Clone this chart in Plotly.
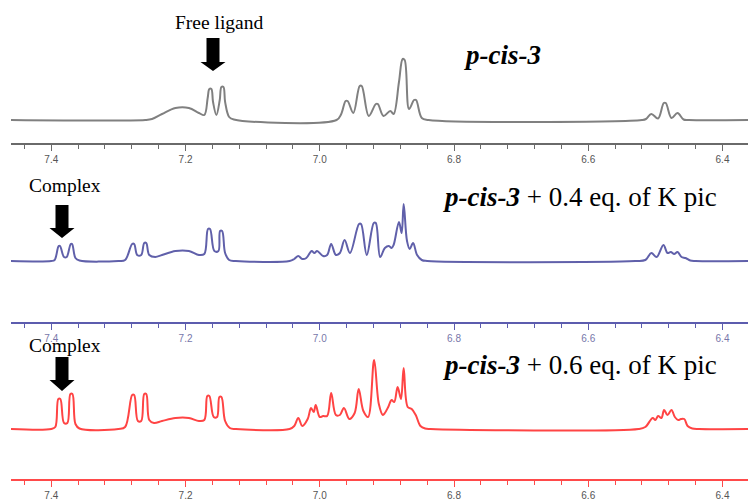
import plotly.graph_objects as go

W, H = 748, 504

# ---------------- data (ppm, intensity above baseline, a.u.) ----------------
ppm_free = [7.46, 7.26, 7.25, 7.235, 7.215, 7.195, 7.18, 7.172, 7.167, 7.1645, 7.1615, 7.159, 7.154, 7.149, 7.1465,
            7.1435, 7.141, 7.135, 7.128, 6.975, 6.968, 6.9615, 6.9585, 6.95, 6.9405, 6.9375, 6.927, 6.9165, 6.9135,
            6.905, 6.895, 6.89, 6.882, 6.8765, 6.8735, 6.867, 6.8595, 6.8565, 6.848, 6.838,
            6.52, 6.514, 6.506, 6.496, 6.4875, 6.4845, 6.476, 6.467, 6.458, 6.45, 6.36]
int_free = [0, 0, 1, 6, 12, 12, 7, 5, 22, 31, 31, 18, 5, 20, 33,
            33, 18, 3, 0.5, 0, 6, 19, 19, 7, 34, 34, 4, 16, 16,
            4, 9, 6, 38, 61, 60, 11, 20, 20, 2, 0,
            0, 1, 6, 1.5, 17, 17, 2, 7, 0.5, 0, 0]

ppm_04 = [7.46, 7.40, 7.395, 7.389, 7.387, 7.381, 7.377, 7.371, 7.369, 7.364, 7.358, 7.30, 7.29, 7.2795, 7.2765,
          7.272, 7.266, 7.2615, 7.2585, 7.254, 7.245, 7.235, 7.215, 7.195, 7.18, 7.172, 7.1665, 7.1635, 7.157,
          7.151, 7.1485, 7.1455, 7.141, 7.135, 7.125,
          7.045, 7.038, 7.032, 7.026, 7.02, 7.012, 7.008, 7.004, 6.995, 6.989, 6.983, 6.976, 6.97, 6.963,
          6.955, 6.9415, 6.9385, 6.93, 6.9195, 6.9165, 6.91, 6.903, 6.897, 6.893, 6.89, 6.882, 6.878, 6.875,
          6.87, 6.866, 6.861, 6.855, 6.848, 6.84,
          6.53, 6.515, 6.506, 6.498, 6.488, 6.482, 6.477, 6.472, 6.467, 6.461, 6.455, 6.448, 6.44, 6.36]
int_04 = [0, 0, 1, 15, 15, 4, 4, 17, 17, 3, 0.5, 0, 1, 17, 17,
          6, 6, 18, 18, 6, 4, 6, 10, 10, 6, 7, 32, 32, 10,
          10, 30, 30, 8, 1, 0,
          0, 2, 5, 2, 3, 10, 8, 10, 5, 6, 17, 6, 8, 21,
          8, 37, 37, 6, 38, 38, 4, 13, 15, 13, 16, 39, 28, 57,
          20, 12, 18, 6, 1, 0,
          0, 1, 8, 4, 16, 8, 9, 7, 9, 4, 3, 0.5, 0, 0]

ppm_06 = [7.46, 7.40, 7.394, 7.3895, 7.3865, 7.381, 7.376, 7.3715, 7.3685, 7.364, 7.358, 7.30, 7.29, 7.2795,
          7.2765, 7.271, 7.266, 7.2615, 7.2585, 7.254, 7.247, 7.235, 7.215, 7.195, 7.18, 7.172, 7.1675, 7.1645,
          7.158, 7.153, 7.1495, 7.1465, 7.141, 7.134, 7.125,
          7.045, 7.038, 7.032, 7.026, 7.018, 7.013, 7.009, 7.006, 7.0, 6.995, 6.989, 6.983, 6.976, 6.97,
          6.964, 6.956, 6.948, 6.942, 6.935, 6.928, 6.919, 6.912, 6.906, 6.903, 6.898, 6.893, 6.889, 6.884,
          6.879, 6.875, 6.869, 6.863, 6.857, 6.85, 6.843, 6.835,
          6.525, 6.515, 6.504, 6.5, 6.496, 6.491, 6.487, 6.482, 6.476, 6.471, 6.466, 6.462, 6.457, 6.452,
          6.445, 6.435, 6.36]
int_06 = [0, 0, 2, 30, 30, 6, 6, 35, 35, 5, 0.5, 0, 2, 34,
          34, 8, 8, 35, 35, 9, 6, 8, 11, 11, 8, 9, 33, 33,
          12, 12, 32, 32, 8, 1, 0,
          0, 3, 11, 3, 10, 21, 17, 24, 12, 13, 13, 36, 14, 14,
          21, 10, 16, 40, 18, 12, 69, 25, 14, 16, 22, 29, 27, 42,
          30, 61, 22, 20, 14, 3, 0.5, 0,
          0, 2, 11, 9, 13, 11, 19, 14, 19, 12, 9, 10, 10, 3,
          0.5, 0, 0]

tick_vals = [7.4, 7.2, 7.0, 6.8, 6.6, 6.4]
tick_text = ["7.4", "7.2", "7.0", "6.8", "6.6", "6.4"]
x_range = [7.46, 6.362]

panels = [
    dict(x=ppm_free, y=int_free, line="#808080", axis="#6a6a6a", lab="#555555",
         dom=(0, 143), base=120),
    dict(x=ppm_04, y=int_04, line="#6060aa", axis="#5c5cae", lab="#7777aa",
         dom=(150, 322), base=261),
    dict(x=ppm_06, y=int_06, line="#ff4444", axis="#ff4a4a", lab="#555555",
         dom=(330, 479), base=429),
]


def py(px):
    return 1 - px / H


def pxx(px):
    return px / W


fig = go.Figure()
layout = dict(width=W, height=H, margin=dict(l=0, r=0, t=0, b=0),
              paper_bgcolor="white", plot_bgcolor="white", showlegend=False)

for i, p in enumerate(panels, start=1):
    sfx = "" if i == 1 else str(i)
    fig.add_trace(go.Scatter(x=p["x"], y=p["y"], mode="lines",
                             line=dict(color=p["line"], width=2.0, shape="spline", smoothing=1.0),
                             xaxis="x" + sfx, yaxis="y" + sfx, hoverinfo="skip"))
    top, bot = p["dom"]
    layout["xaxis" + sfx] = dict(
        domain=[pxx(11), 1], range=x_range, anchor="y" + sfx,
        showline=True, linecolor=p["axis"], linewidth=2.2, showgrid=False, zeroline=False,
        ticks="outside", ticklen=6, tickwidth=1.2, tickcolor=p["axis"],
        tickvals=tick_vals, ticktext=tick_text,
        tickfont=dict(family="Arial, Liberation Sans", size=10, color=p["lab"]),
        minor=dict(tickvals=[round(6.36 + 0.04 * k, 2) for k in range(0, 28)],
                   ticks="outside", ticklen=4, tickwidth=1.2, tickcolor=p["axis"]),
    )
    layout["yaxis" + sfx] = dict(
        domain=[py(bot), py(top)], range=[-(bot - p["base"]), p["base"] - top],
        visible=False, anchor="x" + sfx,
    )

fig.update_layout(**layout)


def arrow(cx, ytop, yhead, ytip, shaft=13, head=25):
    pts = [(cx - shaft / 2, ytop), (cx + shaft / 2, ytop), (cx + shaft / 2, yhead), (cx + head / 2, yhead),
           (cx, ytip), (cx - head / 2, yhead), (cx - shaft / 2, yhead)]
    path = "M " + " L ".join(f"{pxx(x):.5f},{py(y):.5f}" for x, y in pts) + " Z"
    return dict(type="path", xref="paper", yref="paper", path=path,
                fillcolor="black", line=dict(color="black", width=0))


fig.update_layout(shapes=[
    arrow(213, 38, 62, 71),
    arrow(62, 205, 228, 238),
    arrow(62, 357, 380, 391),
])

serif = "Times New Roman, Liberation Serif, serif"
ann = [
    dict(text="Free ligand", x=pxx(219), y=py(23), size=19.5),
    dict(text="Complex", x=pxx(65), y=py(185), size=19.5),
    dict(text="Complex", x=pxx(65), y=py(345), size=19.5),
]
annotations = [dict(text=a["text"], x=a["x"], y=a["y"], xref="paper", yref="paper",
                    showarrow=False, xanchor="center", yanchor="middle",
                    font=dict(family=serif, size=a["size"], color="black")) for a in ann]
annotations += [
    dict(text="<b><i>p-cis-3</i></b>", x=pxx(502), y=py(55), xref="paper", yref="paper",
         showarrow=False, xanchor="center", yanchor="middle",
         font=dict(family=serif, size=27, color="black")),
    dict(text="<b><i>p-cis-3</i></b> + 0.4 eq. of K pic", x=pxx(441), y=py(197), xref="paper", yref="paper",
         showarrow=False, xanchor="left", yanchor="middle",
         font=dict(family=serif, size=27, color="black")),
    dict(text="<b><i>p-cis-3</i></b> + 0.6 eq. of K pic", x=pxx(441), y=py(365), xref="paper", yref="paper",
         showarrow=False, xanchor="left", yanchor="middle",
         font=dict(family=serif, size=27, color="black")),
]
fig.update_layout(annotations=annotations)

fig.write_html("out.html", config={"displayModeBar": False},
               post_script="document.body.style.margin='0';document.body.style.padding='0';")
